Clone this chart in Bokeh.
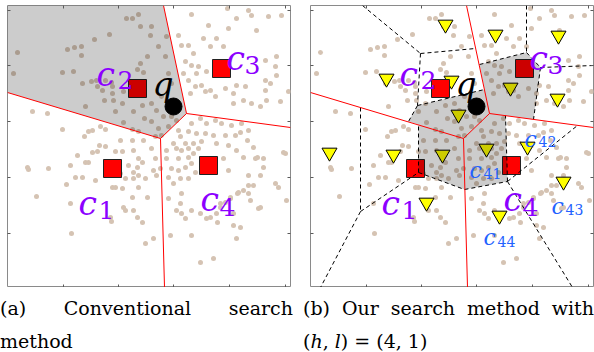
from bokeh.plotting import figure
from bokeh.models import Range1d, LinearAxis, FixedTicker, Div, Spacer
from bokeh.layouts import row, column
from bokeh.embed import file_html
from bokeh.resources import INLINE
from bokeh.core.properties import value

# ---------------- data (frame units, y measured downward) ----------------
DOT_X = [119,125,131,133,87,102,60,67,74,74,10,6,55,66,75,84,89,90,98,104,105,95,105,116,97,78,108,106,115,126,135,137,116,125,131,136,125,133,140,130,136,25,40,55,77,81,85,93,98,92,98,113,
         144,143,151,159,158,161,164,154,144,149,156,164,169,161,151,144,154,148,
         184,201,221,229,244,261,274,249,171,174,181,186,196,203,209,216,178,184,191,189,199,176,181,188,183,194,198,203,208,218,226,229,238,236,244,226,258,263,269,268,269,258,259,253,273,281,
         184,193,199,208,214,224,234,241,181,189,198,206,218,228,173,178,186,194,209,221,166,171,
         85,90,108,115,126,70,131,135,130,121,126,131,138,126,118,113,78,81,63,20,21,41,68,75,88,105,108,115,131,59,29,63,125,116,118,126,130,135,103,104,64,138,140,
         144,159,169,174,181,186,191,148,159,171,181,184,146,153,164,171,178,188,149,161,173,181,166,174,161,173,169,174,178,184,199,203,209,213,218,223,231,236,241,241,251,253,268,271,279,216,221,229,236,241,248,256,278,226,229,184,163,146,206,193,
         233,240,246,250,256,253,246,243,230,223,213,226,233,210,193,220,241,258,276]
DOT_Y = [13,13,9,21,34,29,44,42,41,50,47,68,67,66,78,76,75,81,75,77,81,85,88,86,95,101,106,95,98,106,100,113,117,124,126,135,135,58,51,64,67,106,108,124,131,126,125,121,124,140,141,135,
         21,30,41,31,51,68,78,91,98,105,111,111,115,121,123,116,130,131,
         9,20,23,13,10,11,10,25,30,40,40,48,33,41,33,41,56,60,61,68,66,68,75,81,88,80,86,85,91,83,88,80,81,95,98,98,75,78,70,61,51,85,95,101,96,86,
         118,113,118,115,118,120,118,125,126,128,128,130,130,130,131,138,138,136,138,140,138,125,
         147,146,146,146,145,150,153,157,162,160,167,170,173,173,173,168,157,157,160,162,164,163,172,172,175,182,182,183,182,179,191,198,192,202,205,205,212,217,212,216,228,238,192,
         143,145,143,145,143,148,143,153,153,153,152,158,165,163,163,165,162,167,170,172,173,173,178,188,193,198,205,208,213,205,213,212,208,202,197,193,187,185,180,188,203,202,178,182,195,153,165,145,152,170,153,153,148,220,233,230,230,233,253,257,
         127,135,142,152,162,170,180,195,188,192,198,208,222,217,208,3,5,55,147]

CENT_X = [105, 130, 214, 201]
CENT_Y = [163, 83, 63, 160]
CENT_SUB = ["1", "2", "3", "4"]

QUERY_X = [166]
QUERY_Y = [101]

# coarse Voronoi edges (red)
RED_X0 = [156, 179, 179, 153, 153]
RED_Y0 = [0, 108, 108, 133, 133]
RED_X1 = [179, 283, 153, 0, 157]
RED_Y1 = [108, 122, 133, 87, 282]

# cell of c2 (searched in panel a)
CELL2_X = [0, 156, 179, 153, 0]
CELL2_Y = [0, 0, 108, 133, 87]

# sub-centroids (h = 4 per cell)
SUB_X = [135, 76, 141, 148, 185, 248, 200, 247, 19, 83, 132, 116, 176, 217, 253, 189]
SUB_Y = [19, 73, 75, 109, 29, 30, 82, 93, 147, 149, 149, 197, 143, 141, 176, 210]

# sub-Voronoi edges (dashed)
DASH_X0 = [52, 110, 110, 107, 107, 50, 50, 50, 108, 108, 154, 197, 197, 197, 216, 169, 216, 230, 230]
DASH_Y0 = [0, 48, 48, 100, 100, 102, 206, 206, 167, 167, 184, 176, 176, 176, 0, 59, 47, 62, 62]
DASH_X1 = [110, 165, 107, 174, 98, 50, 10, 108, 108, 154, 197, 195, 267, 262, 216, 216, 230, 283, 223]
DASH_Y1 = [48, 43, 100, 84, 116, 206, 282, 167, 119, 184, 176, 110, 120, 282, 47, 47, 62, 60, 114]

# searched region in panel b
REGION_X = [107, 174, 169, 216, 230, 223, 195, 197, 154, 108, 108, 98]
REGION_Y = [100, 84, 59, 47, 62, 114, 110, 176, 184, 167, 119, 116]

# label anchors
LAB_C_X = [71, 89, 219, 193]
LAB_C_Y = [198, 69, 53, 194]
LAB_S_X = [91, 110, 237, 212]
LAB_S_Y = [204, 74, 59, 201]
Q_LAB_X = [145]
Q_LAB_Y = [79]
BLUE_C_X = [159, 214, 241, 173]
BLUE_C_Y = [165, 134, 201, 232]
BLUE_SUB = ["41", "42", "43", "44"]
BLUE_S_X = [173, 228, 255, 187]
BLUE_S_Y = [168, 136, 204, 236]

XTICKS = [56, 111, 166, 222, 278]
YTICKS = [5, 60, 116, 172, 228]

CAPTION_A = ["(a) Conventional search", "method"]
CAPTION_B = ["(b) Our search method with", "(<i>h</i>, <i>l</i>) = (4, 1)"]

PURPLE = "#8c00ff"
BLUE = "#2262ff"
MATH = value("DejaVu Serif")


def panel(left, right):
    p = figure(frame_width=283, frame_height=282,
               x_range=Range1d(0, 283), y_range=Range1d(282, 0),
               output_backend="svg", toolbar_location=None,
               x_axis_location=None, y_axis_location=None,
               min_border_left=left, min_border_right=right,
               min_border_top=5, min_border_bottom=0,
               outline_line_color="#8a8a8a", outline_line_width=1,
               background_fill_color="white", border_fill_color="white")
    p.xgrid.visible = False
    p.ygrid.visible = False
    for loc, ticks in (("below", XTICKS), ("above", XTICKS),
                       ("left", YTICKS), ("right", YTICKS)):
        ax = LinearAxis(ticker=FixedTicker(ticks=ticks),
                        major_label_overrides={t: "" for t in ticks},
                        major_label_text_font_size="0px",
                        major_label_standoff=0,
                        major_tick_in=3, major_tick_out=0,
                        minor_tick_in=0, minor_tick_out=0,
                        axis_line_color=None,
                        major_tick_line_color="#5a5a5a")
        p.add_layout(ax, loc)
    p.scatter(DOT_X, DOT_Y, size=5, fill_color="#d5c3b3", line_color=None)
    return p


def labels(p):
    p.text(LAB_C_X, LAB_C_Y, text=["c"] * 4, text_font=MATH, text_font_style="italic",
           text_font_size="33px", text_color=PURPLE, text_baseline="alphabetic")
    p.text(LAB_S_X, LAB_S_Y, text=CENT_SUB, text_font=MATH,
           text_font_size="25px", text_color=PURPLE, text_baseline="alphabetic")
    p.text(Q_LAB_X, Q_LAB_Y, text=["q"], text_font=MATH, text_font_style="italic",
           text_font_size="33px", text_color="black", text_baseline="alphabetic")


# ---------------- panel (a) ----------------
pa = panel(7, 10)
pa.scatter(CENT_X, CENT_Y, marker="square", size=18, fill_color="#ff0000",
           line_color="#222222", line_width=1)
pa.patch(CELL2_X, CELL2_Y, fill_color="black", fill_alpha=0.2, line_color=None)
pa.segment(RED_X0, RED_Y0, RED_X1, RED_Y1, line_color="#ff0000", line_width=1)
pa.scatter(QUERY_X, QUERY_Y, size=17, fill_color="black", line_color="black")
labels(pa)

# ---------------- panel (b) ----------------
pb = panel(10, 1)
pb.scatter(SUB_X, SUB_Y, marker="inverted_triangle", size=15, fill_color="#ffff00",
           line_color="black", line_width=1)
pb.scatter(CENT_X, CENT_Y, marker="square", size=18, fill_color="#ff0000",
           line_color="#222222", line_width=1)
pb.patch(REGION_X, REGION_Y, fill_color="black", fill_alpha=0.2, line_color=None)
pb.segment(DASH_X0, DASH_Y0, DASH_X1, DASH_Y1, line_color="black", line_width=1,
           line_dash="4 3")
pb.segment(RED_X0, RED_Y0, RED_X1, RED_Y1, line_color="#ff0000", line_width=1)
pb.scatter(QUERY_X, QUERY_Y, size=17, fill_color="black", line_color="black")
labels(pb)
pb.text(BLUE_C_X, BLUE_C_Y, text=["c"] * 4, text_font=MATH, text_font_style="italic",
        text_font_size="22px", text_color=BLUE, text_baseline="alphabetic")
pb.text(BLUE_S_X, BLUE_S_Y, text=BLUE_SUB, text_font=MATH,
        text_font_size="14px", text_color=BLUE, text_baseline="alphabetic")


def caption(lines, w):
    return ("<div style=\"font-family:'DejaVu Serif';font-size:19px;color:#000;"
            "margin:0;padding:0;width:%dpx\">" % w +
            "<div style=\"text-align:justify;text-align-last:justify;line-height:29px;"
            "margin:0;padding-top:7px;width:%dpx\">" % w + lines[0] + "</div>"
            "<div style=\"line-height:22px;margin:7px 0 0 0;padding:0\">" + lines[1] + "</div>"
            "</div>")


div_a = Div(text=caption(CAPTION_A, 293), width=293, height=65, margin=0)
div_b = Div(text=caption(CAPTION_B, 291), width=291, height=65, margin=0)

layout = column(row(pa, pb), row(div_a, Spacer(width=10, height=65, margin=0), div_b))

open("out.html", "w").write(file_html(layout, INLINE, title="search methods"))
